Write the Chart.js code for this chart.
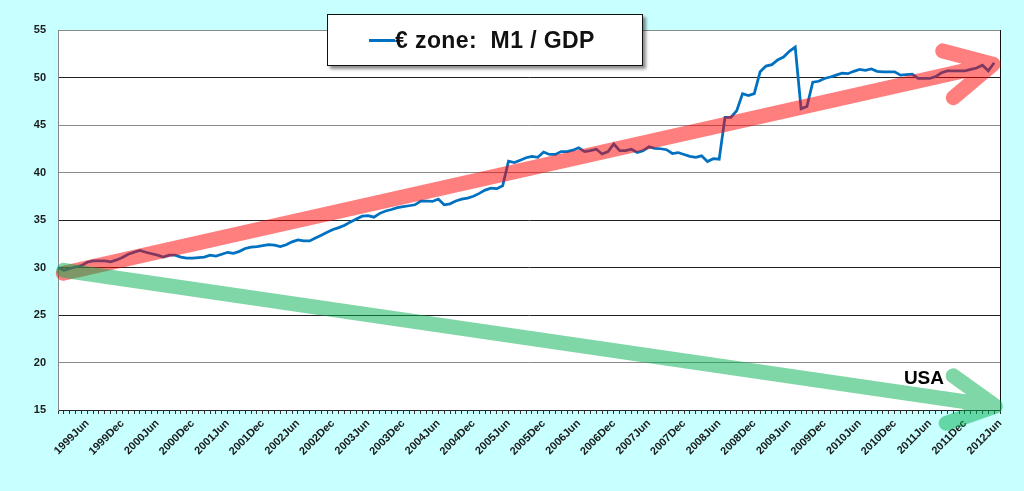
<!DOCTYPE html>
<html>
<head>
<meta charset="utf-8">
<script src="https://cdn.jsdelivr.net/npm/chart.js@4.4.1/dist/chart.umd.min.js"></script>
<style>
  html, body { margin: 0; padding: 0; background: #c8ffff; }
  #wrap { position: relative; width: 1024px; height: 491px; }
  #legend {
    position: absolute; left: 327px; top: 14px; width: 316px; height: 52px;
    background: #fff; border: 1.5px solid #111; box-sizing: border-box;
    box-shadow: 3px 3px 3px rgba(0, 0, 0, 0.45);
    font: bold 23px "Liberation Sans", Arial, sans-serif; color: #111;
    letter-spacing: 0.4px;
    display: flex; align-items: center; white-space: pre;
  }
  #legend .swatch { display: inline-block; width: 26px; height: 3px; background: #0070c0; margin-left: 41px; }
</style>
</head>
<body>
<div id="wrap">
  <canvas id="chart" width="1024" height="491"></canvas>
  <div id="legend"><span class="swatch"></span><span>€ zone:  M1 / GDP</span></div>
</div>
<script>
// months Jan 1999 .. Jun 2012, labels shown for Jun and Dec only
const years = [1999, 2000, 2001, 2002, 2003, 2004, 2005, 2006, 2007, 2008, 2009, 2010, 2011, 2012];
const monthNames = ['Jan', 'Feb', 'Mar', 'Apr', 'May', 'Jun', 'Jul', 'Aug', 'Sep', 'Oct', 'Nov', 'Dec'];
const labelledMonths = ['Jun', 'Dec'];

// euro zone M1 / GDP, monthly (2012 Jun has no value)
const m1Gdp = [
  30.0, 29.7, 29.9, 30.05, 30.2, 30.55, 30.7, 30.7, 30.7, 30.6, 30.8, 31.05,
  31.4, 31.6, 31.8, 31.6, 31.45, 31.3, 31.1, 31.3, 31.3, 31.1, 31.0, 31.0,
  31.05, 31.1, 31.3, 31.2, 31.4, 31.6, 31.5, 31.7, 32.0, 32.15, 32.2, 32.3,
  32.4, 32.35, 32.2, 32.4, 32.7, 32.9, 32.8, 32.8, 33.1, 33.4, 33.7, 34.0,
  34.2, 34.45, 34.8, 35.1, 35.4, 35.45, 35.3, 35.7, 35.95, 36.1, 36.3, 36.4,
  36.5, 36.6, 37.0, 37.0, 36.95, 37.2, 36.6, 36.7, 37.0, 37.2, 37.3, 37.5,
  37.8, 38.15, 38.35, 38.3, 38.6, 41.2, 41.05, 41.3, 41.55, 41.7, 41.6, 42.15,
  41.9, 41.9, 42.2, 42.2, 42.35, 42.6, 42.2, 42.3, 42.45, 41.95, 42.2, 43.0,
  42.3, 42.3, 42.45, 42.1, 42.3, 42.7, 42.55, 42.5, 42.4, 42.0, 42.1, 41.9,
  41.7, 41.6, 41.75, 41.15, 41.45, 41.4, 45.8, 45.8, 46.5, 48.3, 48.1, 48.3,
  50.6, 51.2, 51.35, 51.85, 52.15, 52.75, 53.2, 46.7, 46.95, 49.5, 49.6, 49.9,
  50.05, 50.25, 50.45, 50.4, 50.65, 50.85, 50.75, 50.9, 50.65, 50.6, 50.6, 50.6,
  50.25, 50.3, 50.35, 49.9, 49.9, 49.9, 50.1, 50.5, 50.7, 50.7, 50.7, 50.7,
  50.85, 51.0, 51.3, 50.7, 51.55, null
];

// y axis
const yMin = 15, yMax = 55, yStep = 5;
const darkGridValues = [15, 25, 30, 35, 50];

// trend arrows drawn over the chart: [month index, value]
const arrowStart = [[0.9, 29.4], [1.0, 29.7]];
const arrowEnd = [[159.8, 51.4], [160.2, 15.4]];
const arrowColors = ['rgba(255, 0, 0, 0.5)', 'rgba(0, 176, 80, 0.5)'];

// text note near the green arrow
const noteText = 'USA';
const notePos = [148, 18.3];

const categories = [];
years.forEach(y => {
  monthNames.forEach(m => {
    if (y === 2012 && monthNames.indexOf(m) > 5) return;
    categories.push(y + m);
  });
});

const overlay = {
  id: 'overlay',
  beforeDraw(chart) {
    const { ctx, chartArea: a } = chart;
    ctx.save();
    ctx.fillStyle = '#fff';
    ctx.fillRect(a.left, a.top, a.right - a.left, a.bottom - a.top);
    ctx.restore();
  },
  afterDatasetsDraw(chart) {
    const { ctx, chartArea: a, scales: { x, y } } = chart;
    ctx.save();
    // right frame
    ctx.strokeStyle = '#111';
    ctx.lineWidth = 1;
    ctx.beginPath();
    ctx.moveTo(a.right + 0.5, a.top);
    ctx.lineTo(a.right + 0.5, a.bottom);
    ctx.stroke();

    ctx.lineCap = 'round';
    ctx.lineJoin = 'round';
    ctx.lineWidth = 15;
    arrowStart.forEach((s, k) => {
      const x0 = x.getPixelForValue(s[0]), y0 = y.getPixelForValue(s[1]);
      const x1 = x.getPixelForValue(arrowEnd[k][0]), y1 = y.getPixelForValue(arrowEnd[k][1]);
      const ang = Math.atan2(y1 - y0, x1 - x0);
      const len = 52, spread = 0.48;
      ctx.strokeStyle = arrowColors[k];
      ctx.beginPath();
      ctx.moveTo(x0, y0);
      ctx.lineTo(x1, y1);
      ctx.moveTo(x1 - len * Math.cos(ang - spread), y1 - len * Math.sin(ang - spread));
      ctx.lineTo(x1, y1);
      ctx.lineTo(x1 - len * Math.cos(ang + spread), y1 - len * Math.sin(ang + spread));
      ctx.stroke();
    });

    ctx.fillStyle = '#000';
    ctx.font = 'bold 19px "Liberation Sans", Arial, sans-serif';
    ctx.textAlign = 'center';
    ctx.textBaseline = 'middle';
    ctx.fillText(noteText, x.getPixelForValue(notePos[0]), y.getPixelForValue(notePos[1]));
    ctx.restore();
  }
};

new Chart(document.getElementById('chart'), {
  type: 'line',
  data: {
    labels: categories,
    datasets: [{
      label: '€ zone:  M1 / GDP',
      data: m1Gdp,
      borderColor: '#0070c0',
      borderWidth: 2.75,
      pointRadius: 0,
      tension: 0,
      fill: false
    }]
  },
  options: {
    responsive: false,
    animation: false,
    layout: { padding: { top: 30, right: 24, left: 0, bottom: 0 } },
    plugins: { legend: { display: false }, tooltip: { enabled: false } },
    scales: {
      x: {
        offset: false,
        border: { color: '#222', width: 1 },
        grid: { drawOnChartArea: false, drawTicks: true, tickLength: 4, color: '#333' },
        ticks: {
          autoSkip: false,
          minRotation: 45,
          maxRotation: 45,
          padding: 3,
          color: '#1a1a1a',
          font: { family: '"Liberation Sans", Arial, sans-serif', size: 11, weight: 'bold' },
          callback: function (v, i) {
            const lab = categories[i];
            return labelledMonths.includes(lab.slice(4)) ? lab : '';
          }
        },
        afterFit: s => { s.height = 81; }
      },
      y: {
        min: yMin,
        max: yMax,
        border: { color: '#888', width: 1 },
        grid: {
          drawTicks: false,
          lineWidth: 1,
          color: c => darkGridValues.includes(c.tick.value) ? '#222' : '#8a8a8a'
        },
        ticks: {
          stepSize: yStep,
          padding: 12,
          color: '#1a1a1a',
          font: { family: '"Liberation Sans", Arial, sans-serif', size: 11, weight: 'bold' }
        },
        afterFit: s => { s.width = 58; }
      }
    }
  },
  plugins: [overlay]
});
</script>
</body>
</html>
